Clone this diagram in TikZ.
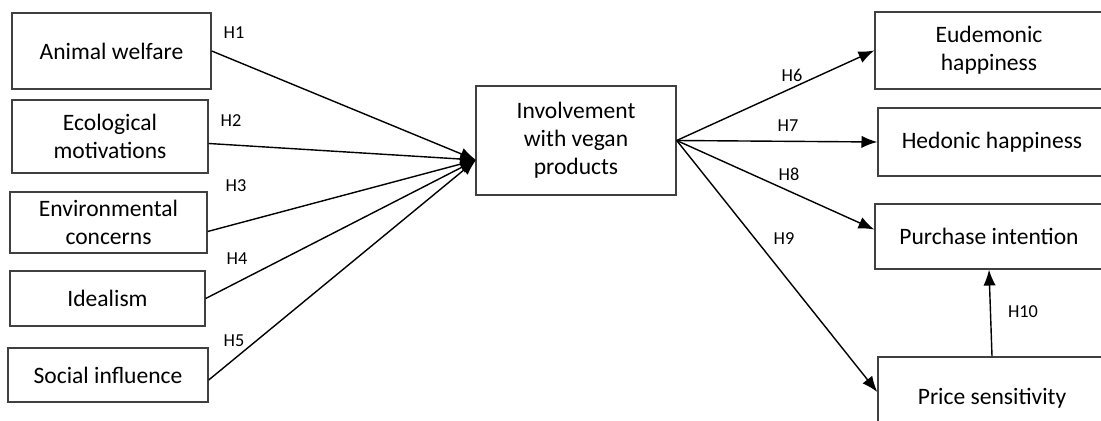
\documentclass[tikz,border=0pt]{standalone}
\usepackage{fontspec}
\setmainfont{Carlito}
\usetikzlibrary{arrows.meta}
\newdimen\px \px=0.02cm
\tikzset{
  box/.style={draw=black!75,line width=0.8pt,inner sep=0pt,align=center,
    font=\fontsize{13.4}{16}\selectfont},
  hyp/.style={font=\fontsize{10.4}{12}\selectfont,inner sep=0pt},
  path/.style={-{Latex[length=9pt,width=7pt]},line width=0.8pt},
}
\begin{document}
\begin{tikzpicture}[x=0.02cm,y=-0.02cm]
  \useasboundingbox (0,0) rectangle (1101,421);
  \clip (0,0) rectangle (1101,421);

  %antecedents
  \node[box,minimum width=199\px,minimum height=76\px] (aw) at (111.5,51) {Animal welfare};
  \node[box,minimum width=196\px,minimum height=73\px] (eco) at (110,136.5) {Ecological\\motivations};
  \node[box,minimum width=197\px,minimum height=61\px] (env) at (108.5,222.5) {Environmental\\concerns};
  \node[box,minimum width=195\px,minimum height=55\px] (ideal) at (107.5,298.5) {Idealism};
  \node[box,minimum width=200\px,minimum height=54\px] (soc) at (108,375) {Social influence};

  %mediator
  \node[box,minimum width=200\px,minimum height=109\px] (inv) at (576,140.5) {Involvement\\with vegan\\products};
  \coordinate (join) at (476,160);

  %outcomes
  \node[box,minimum width=228\px,minimum height=77\px] (eud) at (989,50.5) {Eudemonic\\happiness};
  \node[box,minimum width=228\px,minimum height=68\px] (hed) at (992,142) {Hedonic happiness};
  \node[box,minimum width=228\px,minimum height=65\px] (pur) at (989,236.5) {Purchase intention};
  \node[box,minimum width=228\px,minimum height=82\px] (price) at (992,398) {Price sensitivity};

  %paths
  \draw[path] (aw.east) -- (join);
  \draw[path] ([yshift=-7\px]eco.east) -- (join);
  \draw[path] ([yshift=-9\px]env.east) -- (join);
  \draw[path] (ideal.east) -- (join);
  \draw[path] ([yshift=-5\px]soc.east) -- (join);
  \draw[path] (inv.east) -- (eud.west);
  \draw[path] (inv.east) -- (hed.west);
  \draw[path] (inv.east) -- ([yshift=7\px]pur.west);
  \draw[path] (inv.east) -- ([yshift=6\px]price.west);
  \draw[path] (price.north) -- (pur.south);

  %labels
  \node[hyp] (h1) at (234,33) {H1};
  \node[hyp] (h2) at (231,121) {H2};
  \node[hyp] (h3) at (236,186) {H3};
  \node[hyp] (h4) at (237,259) {H4};
  \node[hyp] (h5) at (234,341) {H5};
  \node[hyp] (h6) at (792,75) {H6};
  \node[hyp] (h7) at (788,126) {H7};
  \node[hyp] (h8) at (789,174) {H8};
  \node[hyp] (h9) at (784,239) {H9};
  \node[hyp] (h10) at (1023,312) {H10};
\end{tikzpicture}
\end{document}
